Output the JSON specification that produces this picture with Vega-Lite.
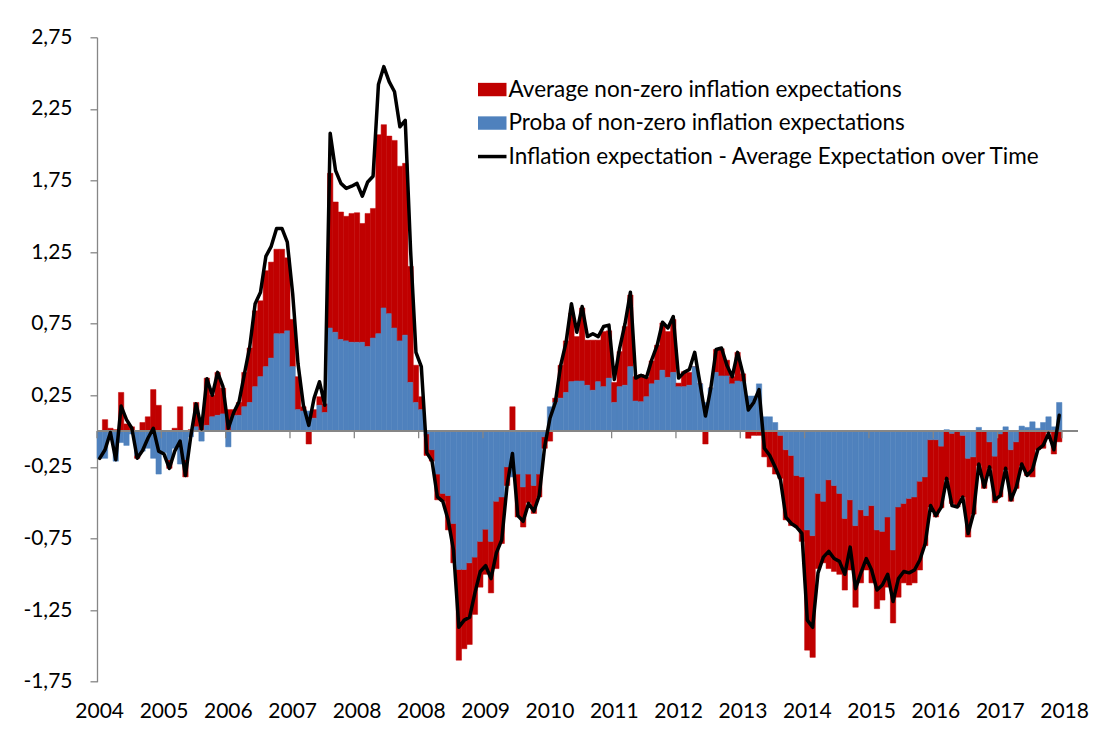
{
"$schema": "https://vega.github.io/schema/vega-lite/v6.json",
"width": 981, "height": 644.4,
"autosize": {"type": "none"},
"padding": {"left": 97, "top": 37.3, "right": 20, "bottom": 47.3},
"background": "white",
"config": {"view": {"stroke": null}, "font": "Lato"},
"data": {"values": [
{"i":0,"b":-0.19,"r":0,"t":-0.19},{"i":1,"b":-0.19,"r":0.08,"t":-0.13},{"i":2,"b":-0.05,"r":0.02,"t":-0.01},{"i":3,"b":-0.21,"r":0.01,"t":-0.2},{"i":4,"b":-0.08,"r":0.27,"t":0.175},{"i":5,"b":-0.1,"r":0.05,"t":0.08},{"i":6,"b":-0.02,"r":0.03,"t":0.02},{"i":7,"b":-0.17,"r":-0.02,"t":-0.19},{"i":8,"b":-0.14,"r":0.06,"t":-0.135},{"i":9,"b":-0.12,"r":0.1,"t":-0.05},
{"i":10,"b":-0.19,"r":0.29,"t":0.02},{"i":11,"b":-0.3,"r":0.18,"t":-0.14},{"i":12,"b":-0.15,"r":0,"t":-0.16},{"i":13,"b":-0.2,"r":-0.06,"t":-0.26},{"i":14,"b":-0.12,"r":0.02,"t":-0.14},{"i":15,"b":-0.23,"r":0.17,"t":-0.07},{"i":16,"b":-0.2,"r":-0.12,"t":-0.31},{"i":17,"b":-0.04,"r":0.01,"t":-0.035},{"i":18,"b":0.03,"r":0.17,"t":0.19},{"i":19,"b":-0.07,"r":0.08,"t":0.015},
{"i":20,"b":0.04,"r":0.33,"t":0.365},{"i":21,"b":0.1,"r":0.15,"t":0.25},{"i":22,"b":0.11,"r":0.3,"t":0.41},{"i":23,"b":0.12,"r":0.18,"t":0.31},{"i":24,"b":-0.11,"r":0.15,"t":0.02},{"i":25,"b":0.11,"r":0.04,"t":0.13},{"i":26,"b":0.11,"r":0.09,"t":0.205},{"i":27,"b":0.17,"r":0.24,"t":0.4},{"i":28,"b":0.2,"r":0.38,"t":0.59},{"i":29,"b":0.31,"r":0.53,"t":0.89},
{"i":30,"b":0.38,"r":0.53,"t":0.97},{"i":31,"b":0.45,"r":0.67,"t":1.22},{"i":32,"b":0.51,"r":0.67,"t":1.29},{"i":33,"b":0.68,"r":0.59,"t":1.415},{"i":34,"b":0.68,"r":0.59,"t":1.415},{"i":35,"b":0.7,"r":0.51,"t":1.32},{"i":36,"b":0.45,"r":0.33,"t":0.96},{"i":37,"b":0.15,"r":0.23,"t":0.47},{"i":38,"b":0.14,"r":0.03,"t":0.18},{"i":39,"b":0.14,"r":-0.09,"t":0.04},
{"i":40,"b":0.09,"r":0.06,"t":0.23},{"i":41,"b":0.18,"r":0.06,"t":0.345},{"i":42,"b":0.13,"r":0.06,"t":0.18},{"i":43,"b":0.72,"r":1.08,"t":2.08},{"i":44,"b":0.69,"r":0.91,"t":1.82},{"i":45,"b":0.64,"r":0.89,"t":1.73},{"i":46,"b":0.63,"r":0.87,"t":1.695},{"i":47,"b":0.62,"r":0.9,"t":1.71},{"i":48,"b":0.62,"r":0.905,"t":1.73},{"i":49,"b":0.62,"r":0.83,"t":1.64},
{"i":50,"b":0.59,"r":0.93,"t":1.74},{"i":51,"b":0.65,"r":0.905,"t":1.78},{"i":52,"b":0.68,"r":1.39,"t":2.42},{"i":53,"b":0.86,"r":1.28,"t":2.545},{"i":54,"b":0.82,"r":1.24,"t":2.44},{"i":55,"b":0.72,"r":1.31,"t":2.37},{"i":56,"b":0.63,"r":1.22,"t":2.125},{"i":57,"b":0.67,"r":1.2,"t":2.17},{"i":58,"b":0.34,"r":0.81,"t":1.26},{"i":59,"b":0.2,"r":0.26,"t":0.55},
{"i":60,"b":0.15,"r":0.09,"t":0.45},{"i":61,"b":-0.02,"r":-0.15,"t":-0.15},{"i":62,"b":-0.13,"r":-0.08,"t":-0.21},{"i":63,"b":-0.3,"r":-0.18,"t":-0.46},{"i":64,"b":-0.435,"r":-0.055,"t":-0.49},{"i":65,"b":-0.45,"r":-0.24,"t":-0.62},{"i":66,"b":-0.645,"r":-0.275,"t":-0.83},{"i":67,"b":-0.966,"r":-0.634,"t":-1.37},{"i":68,"b":-0.966,"r":-0.554,"t":-1.32},{"i":69,"b":-0.92,"r":-0.57,"t":-1.3},
{"i":70,"b":-0.88,"r":-0.4,"t":-1.13},{"i":71,"b":-0.77,"r":-0.32,"t":-0.98},{"i":72,"b":-0.685,"r":-0.315,"t":-0.94},{"i":73,"b":-0.77,"r":-0.36,"t":-1.03},{"i":74,"b":-0.49,"r":-0.47,"t":-0.85},{"i":75,"b":-0.46,"r":-0.325,"t":-0.76},{"i":76,"b":-0.25,"r":-0.13,"t":-0.38},{"i":77,"b":-0.32,"r":0.17,"t":-0.156},{"i":78,"b":-0.3,"r":-0.3,"t":-0.59},{"i":79,"b":-0.39,"r":-0.28,"t":-0.63},
{"i":80,"b":-0.3,"r":-0.2,"t":-0.505},{"i":81,"b":-0.38,"r":-0.195,"t":-0.56},{"i":82,"b":-0.3,"r":-0.16,"t":-0.45},{"i":83,"b":-0.04,"r":-0.08,"t":-0.11},{"i":84,"b":0.17,"r":-0.07,"t":0.09},{"i":85,"b":0.2,"r":0.03,"t":0.2},{"i":86,"b":0.23,"r":0.23,"t":0.46},{"i":87,"b":0.27,"r":0.36,"t":0.62},{"i":88,"b":0.345,"r":0.48,"t":0.89},{"i":89,"b":0.35,"r":0.31,"t":0.69},
{"i":90,"b":0.35,"r":0.51,"t":0.87},{"i":91,"b":0.32,"r":0.315,"t":0.66},{"i":92,"b":0.285,"r":0.35,"t":0.68},{"i":93,"b":0.345,"r":0.29,"t":0.66},{"i":94,"b":0.31,"r":0.385,"t":0.73},{"i":95,"b":0.37,"r":0.33,"t":0.74},{"i":96,"b":0.2,"r":0.14,"t":0.36},{"i":97,"b":0.31,"r":0.245,"t":0.58},{"i":98,"b":0.32,"r":0.41,"t":0.75},{"i":99,"b":0.45,"r":0.5,"t":0.97},
{"i":100,"b":0.21,"r":0.17,"t":0.37},{"i":101,"b":0.205,"r":0.19,"t":0.39},{"i":102,"b":0.24,"r":0.135,"t":0.375},{"i":103,"b":0.33,"r":0.16,"t":0.5},{"i":104,"b":0.355,"r":0.245,"t":0.6},{"i":105,"b":0.425,"r":0.33,"t":0.76},{"i":106,"b":0.375,"r":0.32,"t":0.72},{"i":107,"b":0.41,"r":0.37,"t":0.8},{"i":108,"b":0.31,"r":0.025,"t":0.37},{"i":109,"b":0.31,"r":0.105,"t":0.41},
{"i":110,"b":0.32,"r":0.09,"t":0.43},{"i":111,"b":0.45,"r":0,"t":0.55},{"i":112,"b":0.33,"r":0,"t":0.33},{"i":113,"b":0.2,"r":-0.09,"t":0.105},{"i":114,"b":0.3,"r":0,"t":0.3},{"i":115,"b":0.41,"r":0.16,"t":0.57},{"i":116,"b":0.385,"r":0.19,"t":0.58},{"i":117,"b":0.385,"r":0.11,"t":0.46},{"i":118,"b":0.33,"r":0.05,"t":0.38},{"i":119,"b":0.35,"r":0.2,"t":0.55},
{"i":120,"b":0.345,"r":0.055,"t":0.4},{"i":121,"b":0.245,"r":-0.05,"t":0.147},{"i":122,"b":0.245,"r":-0.03,"t":0.2},{"i":123,"b":0.33,"r":-0.03,"t":0.29},{"i":124,"b":0.1,"r":-0.18,"t":-0.12},{"i":125,"b":0.1,"r":-0.25,"t":-0.17},{"i":126,"b":0.06,"r":-0.3,"t":-0.25},{"i":127,"b":-0.03,"r":-0.3,"t":-0.34},{"i":128,"b":-0.13,"r":-0.49,"t":-0.6},{"i":129,"b":-0.17,"r":-0.49,"t":-0.645},
{"i":130,"b":-0.31,"r":-0.36,"t":-0.67},{"i":131,"b":-0.32,"r":-0.45,"t":-0.715},{"i":132,"b":-0.69,"r":-0.84,"t":-1.32},{"i":133,"b":-0.73,"r":-0.85,"t":-1.37},{"i":134,"b":-0.435,"r":-0.525,"t":-0.99},{"i":135,"b":-0.49,"r":-0.43,"t":-0.88},{"i":136,"b":-0.34,"r":-0.62,"t":-0.84},{"i":137,"b":-0.38,"r":-0.6,"t":-0.89},{"i":138,"b":-0.435,"r":-0.565,"t":-0.91},{"i":139,"b":-0.61,"r":-0.5,"t":-1.0},
{"i":140,"b":-0.48,"r":-0.49,"t":-0.81},{"i":141,"b":-0.66,"r":-0.57,"t":-1.1},{"i":142,"b":-0.55,"r":-0.51,"t":-0.99},{"i":143,"b":-0.59,"r":-0.38,"t":-0.89},{"i":144,"b":-0.52,"r":-0.54,"t":-0.97},{"i":145,"b":-0.69,"r":-0.55,"t":-1.11},{"i":146,"b":-0.7,"r":-0.48,"t":-1.075},{"i":147,"b":-0.6,"r":-0.49,"t":-1.0},{"i":148,"b":-0.83,"r":-0.51,"t":-1.19},{"i":149,"b":-0.53,"r":-0.63,"t":-1.03},
{"i":150,"b":-0.505,"r":-0.555,"t":-0.98},{"i":151,"b":-0.47,"r":-0.605,"t":-0.99},{"i":152,"b":-0.46,"r":-0.6,"t":-0.97},{"i":153,"b":-0.35,"r":-0.62,"t":-0.9},{"i":154,"b":-0.32,"r":-0.48,"t":-0.785},{"i":155,"b":-0.06,"r":-0.47,"t":-0.52},{"i":156,"b":-0.06,"r":-0.54,"t":-0.59},{"i":157,"b":-0.105,"r":-0.43,"t":-0.53},{"i":158,"b":0.01,"r":-0.34,"t":-0.33},{"i":159,"b":-0.016,"r":-0.49,"t":-0.52},
{"i":160,"b":0,"r":-0.53,"t":-0.53},{"i":161,"b":-0.03,"r":-0.43,"t":-0.46},{"i":162,"b":-0.19,"r":-0.55,"t":-0.715},{"i":163,"b":-0.18,"r":-0.4,"t":-0.575},{"i":164,"b":0.026,"r":-0.24,"t":-0.23},{"i":165,"b":0,"r":-0.4,"t":-0.39},{"i":166,"b":-0.075,"r":-0.185,"t":-0.25},{"i":167,"b":-0.175,"r":-0.325,"t":-0.48},{"i":168,"b":-0.02,"r":-0.44,"t":-0.45},{"i":169,"b":0.03,"r":-0.27,"t":-0.26},
{"i":170,"b":-0.13,"r":-0.36,"t":-0.48},{"i":171,"b":-0.075,"r":-0.325,"t":-0.39},{"i":172,"b":0.035,"r":-0.24,"t":-0.23},{"i":173,"b":0.026,"r":-0.31,"t":-0.31},{"i":174,"b":0.065,"r":-0.32,"t":-0.27},{"i":175,"b":0.02,"r":-0.13,"t":-0.13},{"i":176,"b":0.06,"r":-0.12,"t":-0.1},{"i":177,"b":0.1,"r":-0.01,"t":-0.016},{"i":178,"b":0.03,"r":-0.16,"t":-0.13},{"i":179,"b":0.2,"r":-0.075,"t":0.11}
]},
"transform": [{"fold": ["r", "b", "t"], "as": ["key", "value"]}],
"layer": [
{
 "transform": [{"filter": "datum.key !== 't'"}],
 "mark": {"type": "bar", "strokeWidth": 0.5},
 "encoding": {
  "x": {"field": "i", "type": "ordinal", "title": null,
   "scale": {"domain": [0,1,2,3,4,5,6,7,8,9,10,11,12,13,14,15,16,17,18,19,20,21,22,23,24,25,26,27,28,29,30,31,32,33,34,35,36,37,38,39,40,41,42,43,44,45,46,47,48,49,50,51,52,53,54,55,56,57,58,59,60,61,62,63,64,65,66,67,68,69,70,71,72,73,74,75,76,77,78,79,80,81,82,83,84,85,86,87,88,89,90,91,92,93,94,95,96,97,98,99,100,101,102,103,104,105,106,107,108,109,110,111,112,113,114,115,116,117,118,119,120,121,122,123,124,125,126,127,128,129,130,131,132,133,134,135,136,137,138,139,140,141,142,143,144,145,146,147,148,149,150,151,152,153,154,155,156,157,158,159,160,161,162,163,164,165,166,167,168,169,170,171,172,173,174,175,176,177,178,179,180,181,182], "paddingInner": 0, "paddingOuter": 0},
   "axis": {"values": [0,12,24,36,48,60,72,84,96,108,120,132,144,156,168,180],
    "labelExpr": "['2004','2005','2006','2007','2008','2008','2009','2010','2011','2012','2013','2014','2015','2016','2017','2018'][datum.value/12]",
    "domain": false, "ticks": false, "labelPadding": 19, "labelFont": "Lato", "labelFontSize": 21, "labelColor": "#000000", "labelAngle": 0, "labelOverlap": false, "title": null}},
  "y": {"field": "value", "type": "quantitative", "stack": "zero", "title": null,
   "scale": {"domain": [-1.75, 2.75], "nice": false, "zero": false},
   "axis": {"values": [-1.75,-1.25,-0.75,-0.25,0.25,0.75,1.25,1.75,2.25,2.75],
    "labelExpr": "replace(replace(format(datum.value, '.2f'), '.', ','), '\u2212', '-')",
    "grid": false, "title": null, "domainColor": "#868686", "domainWidth": 1.3, "tickColor": "#868686", "tickWidth": 1.3, "tickSize": 7, "labelPadding": 18, "labelFont": "Lato", "labelFontSize": 21, "labelColor": "#000000"}},
  "color": {"field": "key", "type": "nominal",
   "scale": {"domain": ["r", "b", "t"], "range": ["#C00000", "#4F81BD", "#000000"]},
   "legend": {"orient": "none", "legendX": 384, "legendY": 41, "title": null, "padding": 0,
    "symbolSize": 812, "rowPadding": 10.5, "labelOffset": 5, "labelLimit": 800,
    "labelFont": "Lato", "labelFontSize": 22.5, "labelColor": "#000000",
    "labelExpr": "datum.value === 'r' ? 'Average non-zero inflation expectations' : datum.value === 'b' ? 'Proba of non-zero inflation expectations' : 'Inflation expectation - Average Expectation over Time'",
    "encode": {"symbols": {"update": {
     "shape": {"signal": "datum.value === 't' ? 'M-1,0H1' : 'M-1,-0.47H1V0.47H-1Z'"},
     "fill": {"signal": "datum.value === 't' ? 'transparent' : (datum.value === 'r' ? '#C00000' : '#4F81BD')"},
     "stroke": {"signal": "datum.value === 't' ? '#000000' : 'transparent'"},
     "strokeWidth": {"signal": "datum.value === 't' ? 3.5 : 0"},
     "opacity": {"value": 1}
    }}}}},
  "stroke": {"field": "key", "type": "nominal", "legend": null,
   "scale": {"domain": ["r", "b", "t"], "range": ["#C00000", "#4F81BD", "#000000"]}},
  "order": {"field": "key", "sort": "ascending"}
 }
},
{
 "data": {"values": [{"i":0},{"i":12},{"i":24},{"i":36},{"i":48},{"i":60},{"i":72},{"i":84},{"i":96},{"i":108},{"i":120},{"i":132},{"i":144},{"i":156},{"i":168},{"i":180}]},
 "mark": {"type": "rule", "color": "#868686", "strokeWidth": 1.3},
 "encoding": {
  "x": {"field": "i", "type": "ordinal", "bandPosition": 0, "title": null},
  "y": {"datum": 0},
  "y2": {"datum": -0.05}
 }
},
{
 "data": {"values": [{"z": 0}]},
 "mark": {"type": "rule", "color": "#868686", "strokeWidth": 2},
 "encoding": {"y": {"datum": 0}}
},
{
 "transform": [{"filter": "datum.key === 't'"}],
 "mark": {"type": "line", "strokeWidth": 3.5, "strokeJoin": "round", "strokeCap": "round"},
 "encoding": {
  "x": {"field": "i", "type": "ordinal", "title": null},
  "y": {"field": "value", "type": "quantitative", "title": null},
  "color": {"field": "key", "type": "nominal"}
 }
}
]
}
